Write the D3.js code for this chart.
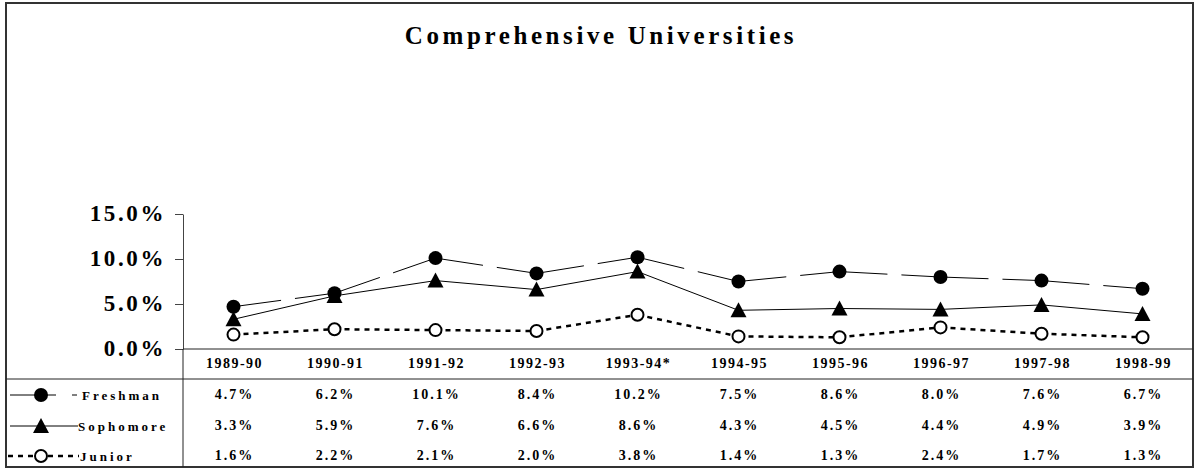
<!DOCTYPE html>
<meta charset="utf-8">
<style>
body { margin: 0; background: #fff; }
svg { display: block; }
text { font-family: 'Liberation Serif', 'Times New Roman', serif; font-weight: bold; fill: #000; }
.frame { fill: none; stroke: #333; stroke-width: 2px; }
.grid { stroke: #222; stroke-width: 1px; }
</style>
<svg width="1196" height="472"></svg>
<script src="https://d3js.org/d3.v7.min.js"></script>
<script>
// data
var years = ["1989-90", "1990-91", "1991-92", "1992-93", "1993-94*", "1994-95", "1995-96", "1996-97", "1997-98", "1998-99"];
var freshman  = [4.7, 6.2, 10.1, 8.4, 10.2, 7.5, 8.6, 8.0, 7.6, 6.7];
var sophomore = [3.3, 5.9, 7.6, 6.6, 8.6, 4.3, 4.5, 4.4, 4.9, 3.9];
var junior    = [1.6, 2.2, 2.1, 2.0, 3.8, 1.4, 1.3, 2.4, 1.7, 1.3];
var yTicks = [0, 5, 10, 15];

var series = [
  { name: "Freshman",  label: "Freshman",  values: freshman,  marker: "dot",  dash: "48,14", width: 1 },
  { name: "Sophomore", label: "Sophomore", values: sophomore, marker: "tri",  dash: null,    width: 1 },
  { name: "Junior",    label: "Junior",    values: junior,    marker: "ring", dash: "5,5",   width: 2.5 }
];

var svg = d3.select("svg");

var left = 183, right = 1193, top0 = 3, bottom = 467;
var axisY = 349, headBottom = 379;
var rowY = [395, 426, 456];

var x = d3.scaleBand().domain(years).range([left, right]);
var y = d3.scaleLinear().domain([0, 15]).range([axisY, 214]);

// outer frame
svg.append("rect").attr("class", "frame")
  .attr("x", 6).attr("y", top0).attr("width", right - 6).attr("height", bottom - top0);

svg.append("text")
  .attr("x", 601).attr("y", 44)
  .attr("text-anchor", "middle")
  .style("font-size", "25px")
  .style("letter-spacing", "3.6px")
  .text("Comprehensive Universities");

// y axis
var yAxis = d3.axisLeft(y).tickValues(yTicks).tickSize(8).tickSizeOuter(0)
  .tickFormat(function(d) { return d3.format(".1f")(d) + "%"; });
var gy = svg.append("g").attr("transform", "translate(" + left + ",0)").call(yAxis);
gy.select(".domain").attr("stroke", "#444");
gy.selectAll(".tick line").attr("stroke", "#444");
gy.selectAll(".tick text")
  .attr("x", -17).attr("dy", "0.3em")
  .style("font-family", "'Liberation Serif', serif")
  .style("font-weight", "bold")
  .style("font-size", "23px")
  .style("letter-spacing", "2.6px");

// table lines
svg.append("line").attr("class", "grid")
  .attr("x1", left).attr("x2", right).attr("y1", axisY).attr("y2", axisY);
svg.append("line").attr("class", "grid")
  .attr("x1", 6).attr("x2", right).attr("y1", headBottom).attr("y2", headBottom);
svg.append("line").attr("class", "grid")
  .attr("x1", left).attr("x2", left).attr("y1", axisY).attr("y2", bottom);

// category header
svg.append("g").selectAll("text").data(years).enter().append("text")
  .attr("x", function(d) { return x(d) + x.bandwidth() / 2 + 1; })
  .attr("y", 368)
  .attr("text-anchor", "middle")
  .style("font-size", "14px")
  .style("letter-spacing", "1.5px")
  .text(function(d) { return d; });

// lines, drawn per segment so the dash pattern restarts at each point
var cx = function(i) { return x(years[i]) + x.bandwidth() / 2; };

series.forEach(function(s, k) {
  var g = svg.append("g");
  var segs = d3.pairs(s.values.map(function(v, i) { return [cx(i), y(v)]; }));
  g.selectAll("line").data(segs).enter().append("line")
    .attr("x1", function(d) { return d[0][0]; })
    .attr("y1", function(d) { return d[0][1]; })
    .attr("x2", function(d) { return d[1][0]; })
    .attr("y2", function(d) { return d[1][1]; })
    .attr("stroke", "#000")
    .attr("stroke-width", s.width)
    .attr("stroke-dasharray", s.dash);

  s.values.forEach(function(v, i) {
    drawMarker(g, s.marker, cx(i), y(v));
  });

  // table row values
  svg.append("g").selectAll("text").data(s.values).enter().append("text")
    .attr("x", function(d, i) { return cx(i) + 1; })
    .attr("y", rowY[k] + 4)
    .attr("text-anchor", "middle")
    .style("font-size", "14px")
    .style("letter-spacing", "2px")
    .text(function(d) { return d3.format(".1f")(d) + "%"; });

  // legend key inside the table
  var lg = svg.append("g");
  var ly = rowY[k];
  if (s.marker === "dot") {
    lg.append("line").attr("x1", 10).attr("x2", 56).attr("y1", ly).attr("y2", ly).attr("stroke", "#000");
    lg.append("line").attr("x1", 72).attr("x2", 77).attr("y1", ly).attr("y2", ly).attr("stroke", "#000");
  } else if (s.marker === "tri") {
    lg.append("line").attr("x1", 10).attr("x2", 78).attr("y1", ly).attr("y2", ly).attr("stroke", "#000");
  } else {
    lg.append("line").attr("x1", 8).attr("x2", 79).attr("y1", ly).attr("y2", ly)
      .attr("stroke", "#000").attr("stroke-width", 2.5).attr("stroke-dasharray", "5,5");
  }
  drawMarker(lg, s.marker, 41, ly);
  lg.append("text")
    .attr("x", s.marker === "dot" ? 82 : (s.marker === "tri" ? 78 : 80))
    .attr("y", ly + 5)
    .style("font-size", "13px")
    .style("letter-spacing", "3px")
    .text(s.label);
});

function drawMarker(g, type, px, py) {
  if (type === "dot") {
    g.append("circle").attr("cx", px).attr("cy", py).attr("r", 7).attr("fill", "#000");
  } else if (type === "tri") {
    g.append("path")
      .attr("d", "M" + px + "," + (py - 8) + "L" + (px + 8) + "," + (py + 7) + "L" + (px - 8) + "," + (py + 7) + "Z")
      .attr("fill", "#000");
  } else {
    g.append("circle").attr("cx", px).attr("cy", py).attr("r", 6)
      .attr("fill", "#fff").attr("stroke", "#000").attr("stroke-width", 2);
  }
}
</script>
